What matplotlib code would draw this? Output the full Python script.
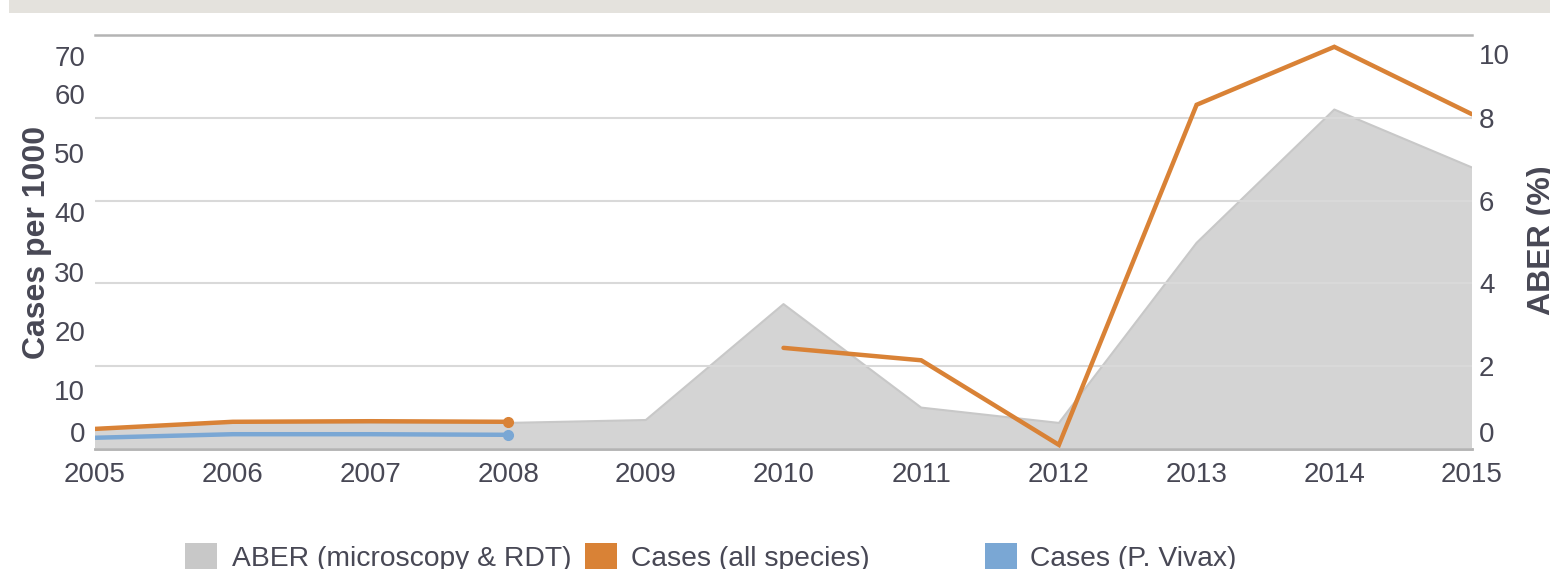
import numpy as np
import matplotlib
matplotlib.use('Agg')
import matplotlib.pyplot as plt
from matplotlib.patches import Rectangle
from matplotlib.transforms import ScaledTranslation

# data
years = [2005, 2006, 2007, 2008, 2009, 2010, 2011, 2012, 2013, 2014, 2015]
aber = [0.5, 0.63, 0.63, 0.63, 0.7, 3.5, 1.0, 0.63, 4.98, 8.2, 6.8]
cases_all = [3.4, 4.6, 4.7, 4.6, np.nan, 17.1, 15.0, 0.7, 58.2, 68.0, 56.6]
cases_vivax = [1.9, 2.5, 2.5, 2.4, np.nan, np.nan, np.nan, np.nan, np.nan, np.nan, np.nan]
left_ticks = [0, 10, 20, 30, 40, 50, 60, 70]
right_ticks = [0, 2, 4, 6, 8, 10]
legend_labels = ['ABER (microscopy & RDT)', 'Cases (all species)', 'Cases (P. Vivax)']

gray = '#d4d4d4'
gray_edge = '#c8c8c8'
orange = '#d98236'
blue = '#7aa7d4'
text_col = '#484855'

plt.rcParams['font.family'] = ['Liberation Sans', 'DejaVu Sans']

fig = plt.figure(figsize=(15.5, 5.69), dpi=100)
ax = fig.add_axes([95 / 1550, 1 - 449 / 569, (1472 - 95) / 1550, (449 - 35) / 569])
ax2 = ax.twinx()

# grey header band at the top
fig.patches.append(Rectangle((9 / 1550, 1 - 13 / 569), 1, 13 / 569, transform=fig.transFigure,
                             facecolor='#e4e2dd', edgecolor='none'))

# ABER area on the right axis, drawn behind the case lines
ax2.fill_between(years, aber, 0, color=gray, edgecolor='none', zorder=1)
ax2.plot(years, aber, color=gray_edge, lw=1.5, zorder=2)
ax2.set_ylim(0, 10)
ax2.set_yticks(right_ticks)
ax2.grid(axis='y', color='#d9d9d9', lw=1.5, zorder=3)
ax2.set_axisbelow(False)
ax.set_zorder(ax2.get_zorder() + 1)
ax.patch.set_visible(False)

# case lines on the left axis
ax.plot(years, cases_all, color=orange, lw=3.2, solid_capstyle='round', solid_joinstyle='miter')
ax.plot(years, cases_vivax, color=blue, lw=3.2, solid_capstyle='round')
ax.plot(years[3], cases_all[3], 'o', color=orange, ms=7)
ax.plot(years[3], cases_vivax[3], 'o', color=blue, ms=7)
ax.set_ylim(0, 70)
ax.set_xlim(years[0], years[-1])
ax.set_yticks(left_ticks)
ax.set_xticks(years)

for a in (ax, ax2):
    for s in ('left', 'right', 'top'):
        a.spines[s].set_visible(False)
    a.spines['bottom'].set_color('#b4b4b4')
    a.spines['bottom'].set_linewidth(1.8)
ax2.axhline(10, color='#b4b4b4', lw=1.8, zorder=4, clip_on=False)

ax.tick_params(axis='both', length=0, labelsize=20, labelcolor=text_col)
ax.tick_params(axis='x', pad=9)
ax.tick_params(axis='y', pad=7)
ax2.tick_params(axis='y', length=0, labelsize=20, labelcolor=text_col, pad=5)

# end labels sit inside the plot height, as in the reference
def shift(label, dy):
    label.set_transform(label.get_transform() + ScaledTranslation(0, dy / 72, fig.dpi_scale_trans))

lt = ax.get_yticklabels()
shift(lt[0], 12)
shift(lt[-1], -15)
rt = ax2.get_yticklabels()
shift(rt[0], 12)
shift(rt[-1], -14)

ax.set_ylabel('Cases per 1000', fontsize=23, fontweight='bold', color=text_col)
ax.yaxis.set_label_coords(-0.031, 0.5)
fig.text(1542 / 1550, 1 - 240 / 569, 'ABER (%)', rotation=90, fontsize=23, fontweight='bold',
         color=text_col, ha='center', va='center')

# legend drawn by hand to keep the uneven spacing
box_x = [185, 585, 985]
text_x = [232, 631, 1030]
colors = ['#c8c8c8', orange, blue]
for bx, tx, c, lab in zip(box_x, text_x, colors, legend_labels):
    fig.patches.append(Rectangle((bx / 1550, 1 - 575 / 569), 32 / 1550, 32 / 569,
                                 transform=fig.transFigure, facecolor=c, edgecolor='none'))
    fig.text(tx / 1550, 1 - 566 / 569, lab, fontsize=20.3, color=text_col, ha='left', va='baseline')

fig.savefig('out.png', dpi=100)
